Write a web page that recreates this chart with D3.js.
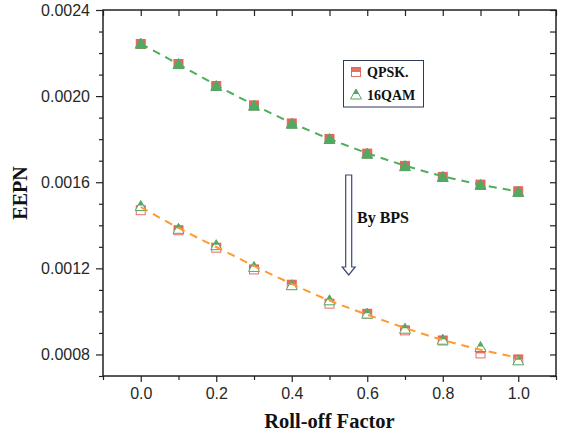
<!DOCTYPE html>
<html>
<head>
<meta charset="utf-8">
<script src="https://cdn.jsdelivr.net/npm/d3@7/dist/d3.min.js"></script>
<style>
  body { margin: 0; background: #fff; }
  .tick text { font-family: "Liberation Sans", Arial, sans-serif; font-size: 16px; fill: #282828; }
</style>
</head>
<body>
<svg id="chart"></svg>
<script>
////////////////// data ////////////////////
const rolloff = [0.0, 0.1, 0.2, 0.3, 0.4, 0.5, 0.6, 0.7, 0.8, 0.9, 1.0];
// before BPS
const qpskHigh = [0.002242, 0.002149, 0.002047, 0.001957, 0.001873, 0.001801, 0.001733, 0.001676, 0.001625, 0.001589, 0.001558];
const qamHigh  = [0.002246, 0.002151, 0.002049, 0.001958, 0.001874, 0.001803, 0.001735, 0.001677, 0.001627, 0.001590, 0.001557];
const fitHigh  = [0.002244, 0.002148, 0.002050, 0.001958, 0.001874, 0.001800, 0.001734, 0.001676, 0.001626, 0.001588, 0.001557];
// after BPS
const qpskLow = [0.001470, 0.001377, 0.001296, 0.001195, 0.001124, 0.001036, 0.000989, 0.000912, 0.000865, 0.000805, 0.000777];
const qamLow  = [0.001492, 0.001386, 0.001310, 0.001209, 0.001124, 0.001054, 0.000992, 0.000922, 0.000871, 0.000837, 0.000775];
const fitLow  = [0.001485, 0.001385, 0.001300, 0.001210, 0.001127, 0.001048, 0.000985, 0.000922, 0.000866, 0.000820, 0.000785];
// ticks / labels
const xMajor = [0.0, 0.2, 0.4, 0.6, 0.8, 1.0];
const yMajor = [0.0008, 0.0012, 0.0016, 0.0020, 0.0024];
const legendNames = ["QPSK.", "16QAM"];

////////////////// setup ////////////////////
const W = 563, H = 436;
const mLeft = 103, mRight = 556, mTop = 10, mBottom = 376;
const red = "#e0574b", green = "#52a865";
const serifFont = "'Liberation Serif', 'Times New Roman', 'DejaVu Serif', serif";

const svg = d3.select("#chart").attr("width", W).attr("height", H);

const x = d3.scaleLinear().domain([-0.1, 1.1]).range([mLeft, mRight]);
const y = d3.scaleLinear().domain([0.0007, 0.0024]).range([mBottom, mTop]);

const xAll = d3.range(-1, 12).map(d => d / 10);
const xMinor = xAll.filter(d => !xMajor.some(m => Math.abs(m - d) < 1e-9));
const yAll = d3.range(7, 25).map(d => d / 10000);
const yMinor = yAll.filter(d => !yMajor.some(m => Math.abs(m - d) < 1e-9));

// axes: left & bottom ticks outward, top & right inward
const axisColor = "#222";
function styleAxis(g) {
    g.select(".domain").remove();
    g.selectAll(".tick line").attr("stroke", axisColor).attr("stroke-width", 1.2);
}
svg.append("g").attr("transform", `translate(0,${mBottom})`)
    .call(d3.axisBottom(x).tickValues(xMinor).tickSize(4).tickFormat(""))
    .call(styleAxis);
svg.append("g").attr("transform", `translate(0,${mBottom})`)
    .call(d3.axisBottom(x).tickValues(xMajor).tickSize(6).tickPadding(6).tickFormat(d3.format(".1f")))
    .call(styleAxis);
svg.append("g").attr("transform", `translate(0,${mTop})`)
    .call(d3.axisBottom(x).tickValues(xAll).tickSize(6).tickFormat(""))
    .call(styleAxis);
svg.append("g").attr("transform", `translate(${mLeft},0)`)
    .call(d3.axisLeft(y).tickValues(yMinor).tickSize(4).tickFormat(""))
    .call(styleAxis);
svg.append("g").attr("transform", `translate(${mLeft},0)`)
    .call(d3.axisLeft(y).tickValues(yMajor).tickSize(7).tickPadding(6).tickFormat(d3.format(".4f")))
    .call(styleAxis);
svg.append("g").attr("transform", `translate(${mRight},0)`)
    .call(d3.axisLeft(y).tickValues(yAll).tickSize(6).tickFormat(""))
    .call(styleAxis);

// frame
svg.append("rect")
    .attr("x", mLeft).attr("y", mTop)
    .attr("width", mRight - mLeft).attr("height", mBottom - mTop)
    .attr("fill", "none").attr("stroke", axisColor).attr("stroke-width", 1.5);

////////////////// markers ////////////////////
function square(g, cx, cy, half) {
    const s = 9;
    g.append("rect").attr("x", cx - s / 2).attr("y", cy - s / 2).attr("width", s).attr("height", s)
        .attr("fill", half ? "#fff" : red).attr("stroke", red).attr("stroke-width", 1).attr("opacity", half ? 0.85 : 0.9);
    if (half) {
        g.append("rect").attr("x", cx - s / 2).attr("y", cy - s / 2).attr("width", s).attr("height", s / 2)
            .attr("fill", red).attr("opacity", 0.85);
    }
}
function triangle(g, cx, cy, half) {
    const h = 10, w = 11;
    const pts = [[cx, cy - h / 2], [cx + w / 2, cy + h / 2], [cx - w / 2, cy + h / 2]];
    g.append("polygon").attr("points", pts.join(" "))
        .attr("fill", half ? "#fff" : green).attr("stroke", green).attr("stroke-width", 1);
    if (half) {
        const tp = [[cx, cy - h / 2], [cx + w / 4, cy], [cx - w / 4, cy]];
        g.append("polygon").attr("points", tp.join(" ")).attr("fill", green);
    }
}

const markG = svg.append("g");
rolloff.forEach((r, i) => square(markG, x(r), y(qpskHigh[i]), false));
rolloff.forEach((r, i) => triangle(markG, x(r), y(qamHigh[i]), false));
rolloff.forEach((r, i) => square(markG, x(r), y(qpskLow[i]), true));
rolloff.forEach((r, i) => triangle(markG, x(r), y(qamLow[i]), true));

////////////////// fitted lines ////////////////////
svg.append("path")
    .datum(rolloff.map((r, i) => [r, fitHigh[i]]))
    .attr("d", d3.line().x(d => x(d[0])).y(d => y(d[1])).curve(d3.curveBasis))
    .attr("fill", "none").attr("stroke", "#4fae5c").attr("stroke-width", 2)
    .attr("stroke-dasharray", "8,6");
svg.append("path")
    .datum(rolloff.map((r, i) => [r, fitLow[i]]))
    .attr("d", d3.line().x(d => x(d[0])).y(d => y(d[1])).curve(d3.curveBasis))
    .attr("fill", "none").attr("stroke", "#ff9a30").attr("stroke-width", 2)
    .attr("stroke-dasharray", "8,6");

// bold serif text helper
function label(g, tx, ty, size, str) {
    return g.append("text").attr("x", tx).attr("y", ty)
        .attr("font-family", serifFont).attr("font-weight", "bold")
        .attr("font-size", size).attr("fill", "#111").text(str);
}

////////////////// legend ////////////////////
const leg = svg.append("g");
leg.append("rect").attr("x", 343.5).attr("y", 60.5).attr("width", 80).attr("height", 46.5)
    .attr("fill", "#fff").attr("stroke", "#2e3a5c").attr("stroke-width", 1);
square(leg, 356, 72, true);
triangle(leg, 356, 94, true);
legendNames.forEach((n, i) => label(leg, 367, 77 + i * 22.5, 14, n));

////////////////// arrow annotation ////////////////////
const ax = 348.7, aTop = 175, aShaftEnd = 267, aTip = 275;
svg.append("polygon")
    .attr("points", [[ax - 3, aTop], [ax + 3, aTop], [ax + 3, aShaftEnd], [ax + 6.5, aShaftEnd],
        [ax, aTip], [ax - 6.5, aShaftEnd], [ax - 3, aShaftEnd]].join(" "))
    .attr("fill", "#fff").attr("stroke", "#3d4a6e").attr("stroke-width", 1.2);
label(svg, 357, 223, 16, "By BPS");

////////////////// axis titles ////////////////////
label(svg, (mLeft + mRight) / 2, 428, 20.5, "Roll-off Factor").attr("text-anchor", "middle");
label(svg, 0, 0, 20, "EEPN")
    .attr("transform", `translate(27,${(mTop + mBottom) / 2}) rotate(-90)`)
    .attr("text-anchor", "middle");
</script>
</body>
</html>
